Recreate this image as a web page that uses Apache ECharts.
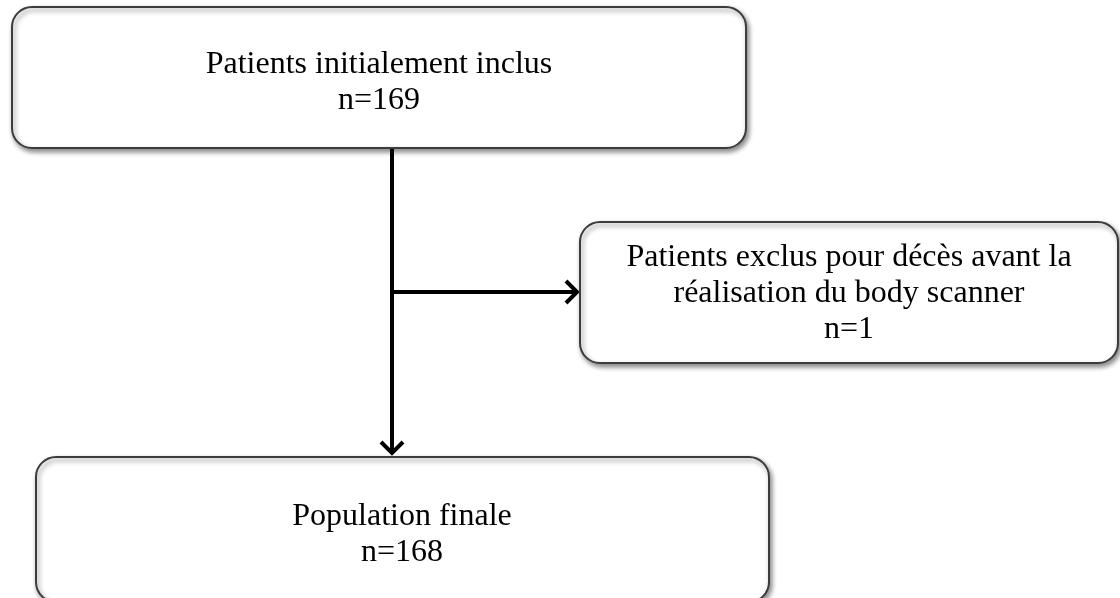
<!DOCTYPE html>
<html>
<head>
<meta charset="utf-8">
<style>
  html, body { margin: 0; padding: 0; background: #fff; }
  #chart { width: 1120px; height: 598px; }
</style>
<script src="https://cdn.jsdelivr.net/npm/echarts@6/dist/echarts.min.js"></script>
</head>
<body>
<div id="chart"></div>
<script>
// contenu du diagramme de flux
const boxTitles = ['Patients initialement inclus', 'Patients exclus pour décès avant la\nréalisation du body scanner', 'Population finale']
const boxCounts = [169, 1, 168]

// mise en page (unités des axes = pixels)
const boxRects = [[12, 7, 746, 148], [580, 222, 1118, 363], [36, 457, 769, 602]]
const textCenters = [[379, 83], [849, 294], [402, 535]]
const arrowPaths = [[392, 148, 392, 455], [392, 292, 579, 292]]

const chart = echarts.init(document.getElementById('chart'))

const font = '32px "Liberation Serif", "Times New Roman", serif'

function renderArrow(params, api) {
  const p0 = api.coord([api.value(0), api.value(1)])
  const p1 = api.coord([api.value(2), api.value(3)])
  const dx = p1[0] - p0[0]
  const dy = p1[1] - p0[1]
  const len = Math.sqrt(dx * dx + dy * dy)
  const ux = dx / len
  const uy = dy / len
  const head = 13 // longueur de la pointe
  const half = 11 // demi-largeur
  const stroke = { stroke: '#000', lineWidth: 4, fill: 'none' }
  return {
    type: 'group',
    children: [
      { type: 'line', shape: { x1: p0[0], y1: p0[1], x2: p1[0] - ux, y2: p1[1] - uy }, style: stroke },
      {
        type: 'polyline',
        shape: {
          points: [
            [p1[0] - ux * head - uy * half, p1[1] - uy * head + ux * half],
            [p1[0] - ux * 2, p1[1] - uy * 2],
            [p1[0] - ux * head + uy * half, p1[1] - uy * head - ux * half]
          ]
        },
        style: Object.assign({ lineJoin: 'miter' }, stroke)
      }
    ]
  }
}

function renderBox(params, api) {
  const i = params.dataIndex
  const a = api.coord([api.value(0), api.value(1)])
  const b = api.coord([api.value(2), api.value(3)])
  const c = api.coord(textCenters[i])
  return {
    type: 'group',
    children: [
      {
        type: 'rect',
        shape: { x: a[0], y: a[1], width: b[0] - a[0], height: b[1] - a[1], r: 20 },
        style: {
          fill: '#fff',
          stroke: '#3c3c3c',
          lineWidth: 2,
          shadowBlur: 5,
          shadowOffsetX: 2,
          shadowOffsetY: 3,
          shadowColor: 'rgba(0,0,0,0.45)'
        }
      },
      {
        type: 'text',
        style: {
          text: boxTitles[i] + '\nn=' + boxCounts[i],
          x: c[0],
          y: c[1],
          fill: '#000',
          font: font,
          align: 'center',
          verticalAlign: 'middle',
          lineHeight: 36
        }
      }
    ]
  }
}

chart.setOption({
  animation: false,
  backgroundColor: '#fff',
  grid: { left: 0, right: 0, top: 0, bottom: 0 },
  xAxis: { type: 'value', min: 0, max: 1120, show: false },
  yAxis: { type: 'value', min: 0, max: 598, inverse: true, show: false },
  series: [
    {
      type: 'custom',
      silent: true,
      renderItem: renderArrow,
      data: arrowPaths,
      z: 1
    },
    {
      type: 'custom',
      silent: true,
      clip: false,
      renderItem: renderBox,
      data: boxRects,
      z: 2
    }
  ]
})
</script>
</body>
</html>
